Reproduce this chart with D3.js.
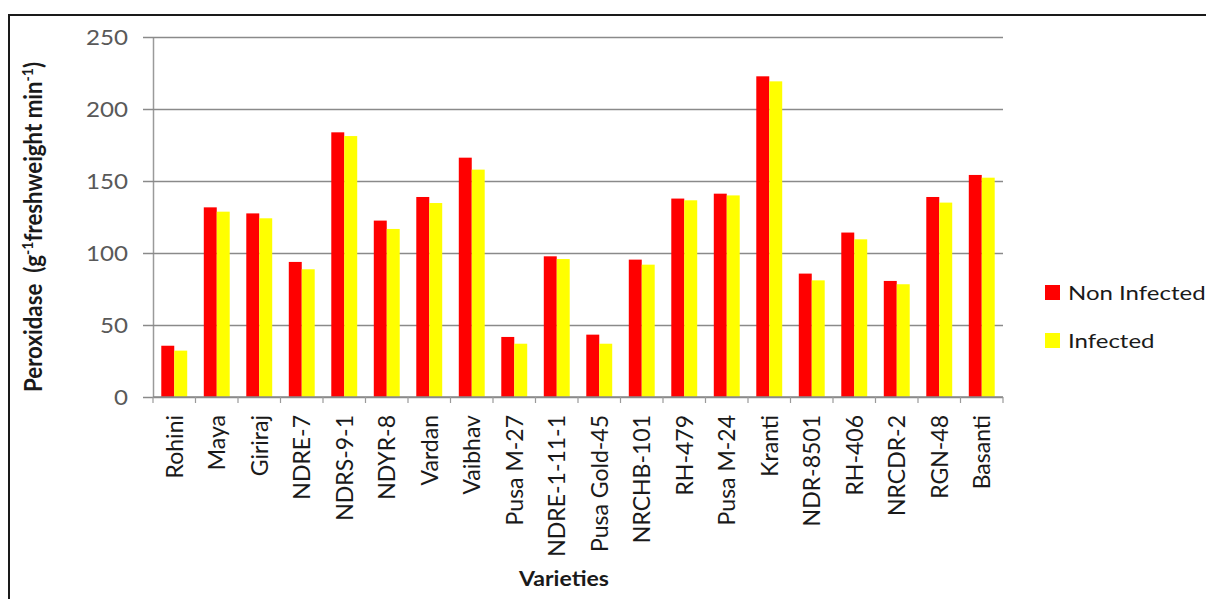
<!DOCTYPE html>
<html>
<head>
<meta charset="utf-8">
<script src="https://cdn.jsdelivr.net/npm/d3@7/dist/d3.min.js"></script>
<style>
  html, body { margin: 0; padding: 0; background: #fff; }
  svg { display: block; font-family: Lato, "Open Sans", sans-serif; }
</style>
</head>
<body>
<svg id="chart" width="1206" height="599"></svg>
<script>
// Peroxidase activity of wheat varieties, non infected vs infected
const varieties = ["Rohini", "Maya", "Giriraj", "NDRE-7", "NDRS-9-1", "NDYR-8", "Vardan", "Vaibhav",
  "Pusa M-27", "NDRE-1-11-1", "Pusa Gold-45", "NRCHB-101", "RH-479", "Pusa M-24", "Kranti",
  "NDR-8501", "RH-406", "NRCDR-2", "RGN-48", "Basanti"];
const nonInfected = [35.6, 131.7, 127.5, 93.8, 183.8, 122.5, 138.9, 166.2, 41.7, 97.7, 43.3, 95.4,
  137.8, 141.2, 222.7, 85.7, 114.2, 80.6, 138.9, 154.2];
const infected = [32.2, 128.7, 124.1, 88.7, 181.2, 116.7, 134.7, 157.9, 37.0, 95.8, 37.0, 91.9,
  136.6, 140.0, 219.2, 81.0, 109.5, 78.3, 135.0, 152.3];
const seriesNames = ["Non Infected", "Infected"];
const seriesColors = ["#ff0000", "#ffff00"];
const yTicks = [0, 50, 100, 150, 200, 250];

const svg = d3.select("#chart");
const plot = { left: 153, right: 1003, top: 37, bottom: 397 };

// outer frame (top and left edges visible)
svg.append("path")
  .attr("d", `M9,599 V15 H1206`)
  .attr("fill", "none").attr("stroke", "#1a1a1a").attr("stroke-width", 2);

const x0 = d3.scaleBand().domain(varieties).range([plot.left, plot.right])
  .paddingInner(0.39).paddingOuter(0.195);
const x1 = d3.scaleBand().domain(seriesNames).range([0, x0.bandwidth()]);
const y = d3.scaleLinear().domain([0, 250]).range([plot.bottom, plot.top]);
const color = d3.scaleOrdinal().domain(seriesNames).range(seriesColors);

// y axis with gridlines
const yAxis = svg.append("g").attr("transform", `translate(${plot.left},0)`)
  .call(d3.axisLeft(y).tickValues(yTicks).tickSize(0).tickPadding(0));
yAxis.select(".domain").attr("stroke", "#9a9a9a").attr("stroke-width", 1.5);
yAxis.selectAll(".tick line")
  .attr("x1", -10).attr("x2", plot.right - plot.left)
  .attr("stroke", "#8a8a8a").attr("stroke-width", 1.5);
yAxis.selectAll(".tick text").remove();
yAxis.selectAll(".tick").append("text")
  .attr("transform", "translate(-25,0) scale(1.15,1)")
  .attr("text-anchor", "end").attr("dy", "0.36em")
  .attr("fill", "#595959").attr("font-size", 21)
  .attr("font-family", "Lato, sans-serif")
  .text(d => d);

// bars
const rows = varieties.map((v, i) => ({ v, vals: [nonInfected[i], infected[i]] }));
const groups = svg.append("g").selectAll("g").data(rows).join("g")
  .attr("transform", d => `translate(${x0(d.v)},0)`);
groups.selectAll("rect")
  .data(d => d.vals.map((val, k) => ({ key: seriesNames[k], val })))
  .join("rect")
  .attr("x", d => x1(d.key))
  .attr("width", x1.bandwidth())
  .attr("y", d => y(d.val))
  .attr("height", d => y(0) - y(d.val))
  .attr("fill", d => color(d.key));

// x axis: baseline, boundary ticks, rotated labels
const xAxis = svg.append("g").attr("transform", `translate(0,${plot.bottom})`)
  .call(d3.axisBottom(x0).tickSize(0).tickPadding(0));
xAxis.select(".domain").remove();
svg.append("line")
  .attr("x1", plot.left).attr("x2", plot.right)
  .attr("y1", plot.bottom).attr("y2", plot.bottom)
  .attr("stroke", "#8a8a8a").attr("stroke-width", 1.5);
const bounds = d3.range(varieties.length + 1).map(i => plot.left + i * x0.step());
svg.append("g").selectAll("line").data(bounds).join("line")
  .attr("x1", d => d).attr("x2", d => d)
  .attr("y1", plot.bottom).attr("y2", plot.bottom + 6)
  .attr("stroke", "#9a9a9a").attr("stroke-width", 1.2);
xAxis.selectAll(".tick text")
  .attr("transform", "translate(0,18) rotate(-90)")
  .attr("text-anchor", "end").attr("dy", "0.36em").attr("x", 0).attr("y", 0)
  .attr("fill", "#1a1a1a").attr("font-size", 23)
  .attr("font-family", "Lato, sans-serif");

// axis titles
svg.append("text")
  .attr("transform", "translate(564,586) scale(1.1,1)")
  .attr("text-anchor", "middle").attr("font-weight", "bold")
  .attr("font-size", 21).attr("fill", "#1a1a1a")
  .text("Varieties");

const yTitle = svg.append("text")
  .attr("transform", "translate(42,227) scale(1.12,1) rotate(-90)")
  .attr("text-anchor", "middle").attr("font-weight", "bold")
  .attr("font-size", 22.3).attr("fill", "#1a1a1a");
yTitle.append("tspan").text("Peroxidase\u00a0\u00a0(g");
yTitle.append("tspan").attr("baseline-shift", "super").attr("font-size", 14).text("-1");
yTitle.append("tspan").text("freshweight min");
yTitle.append("tspan").attr("baseline-shift", "super").attr("font-size", 14).text("-1");
yTitle.append("tspan").text(")");

// legend
const legend = svg.append("g").selectAll("g").data(seriesNames).join("g")
  .attr("transform", (d, i) => `translate(1045,${285 + i * 48})`);
legend.append("rect").attr("width", 15).attr("height", 15).attr("fill", d => color(d));
legend.append("text")
  .attr("transform", "translate(23,15) scale(1.2,1)")
  .attr("font-size", 20).attr("fill", "#1a1a1a")
  .text(d => d);
</script>
</body>
</html>
